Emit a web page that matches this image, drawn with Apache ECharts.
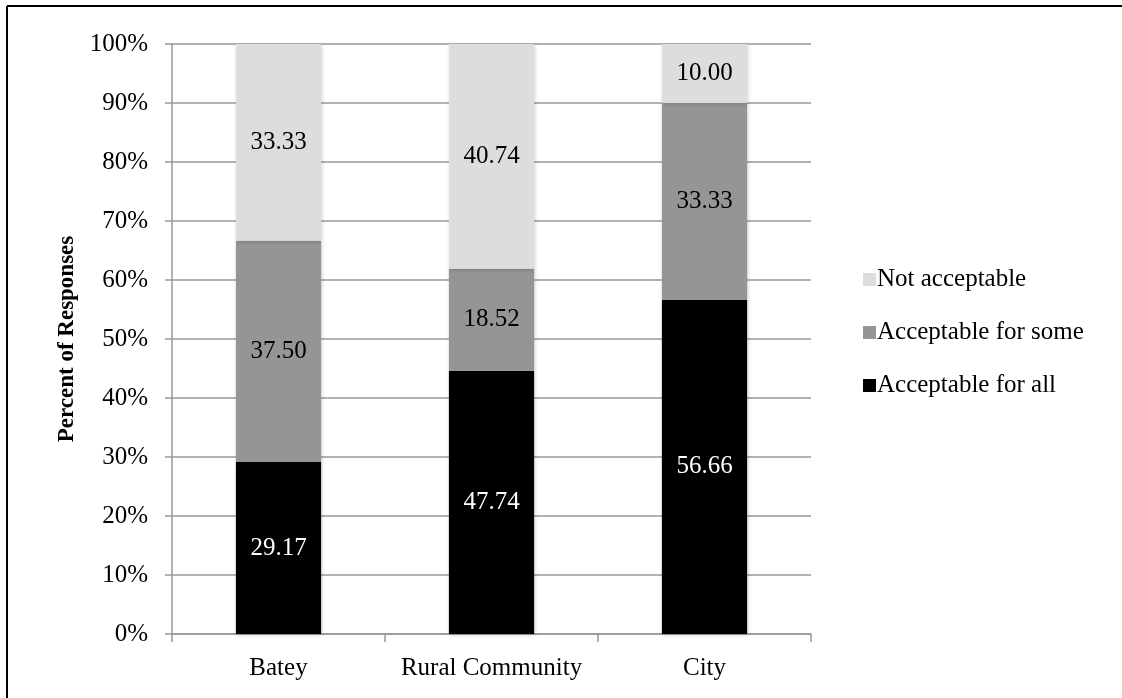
<!DOCTYPE html>
<html>
<head>
<meta charset="utf-8">
<script src="https://cdn.jsdelivr.net/npm/echarts@6/dist/echarts.min.js"></script>
<style>
  html, body { margin: 0; padding: 0; background: #fff; }
  #chart { width: 1122px; height: 698px; }
</style>
</head>
<body>
<div id="chart"></div>
<script>
const categories = ['Batey', 'Rural Community', 'City'];
const acceptableAll = [29.17, 47.74, 56.66];
const acceptableSome = [37.50, 18.52, 33.33];
const notAcceptable = [33.33, 40.74, 10.00];
const yTicks = [0, 10, 20, 30, 40, 50, 60, 70, 80, 90, 100];

// Excel-style 100% stacking: heights are each value's share of its column
const totals = categories.map((c, i) => acceptableAll[i] + acceptableSome[i] + notAcceptable[i]);
const share = (arr) => arr.map((v, i) => (v / totals[i]) * 100);

const font = 'Liberation Serif';
const chart = echarts.init(document.getElementById('chart'));

const barSeries = (name, raw, color, labelColor) => ({
  name: name,
  type: 'bar',
  stack: 'total',
  barWidth: '40%',
  data: share(raw),
  itemStyle: {
    color: color,
    shadowColor: 'rgba(0,0,0,0.18)',
    shadowBlur: 4,
    shadowOffsetX: 1,
    shadowOffsetY: 1,
  },
  label: {
    show: true,
    position: 'inside',
    color: labelColor,
    fontFamily: font,
    fontSize: 25,
    formatter: (p) => raw[p.dataIndex].toFixed(2),
  },
});

const option = {
  backgroundColor: '#fff',
  animation: false,
  grid: {
    left: 172,
    top: 44,
    width: 639,
    height: 590,
  },
  legend: {
    orient: 'vertical',
    left: 858,
    top: 262,
    itemWidth: 13,
    itemHeight: 13,
    itemGap: 28,
    icon: 'rect',
    data: ['Not acceptable', 'Acceptable for some', 'Acceptable for all'],
    textStyle: { fontFamily: font, fontSize: 25, color: '#000', padding: [0, 0, 0, -4] },
  },
  xAxis: {
    type: 'category',
    data: categories,
    axisLine: { lineStyle: { color: '#999', width: 1.5 } },
    axisTick: { show: true, length: 8, lineStyle: { color: '#999', width: 1.5 } },
    axisLabel: {
      fontFamily: font,
      fontSize: 25,
      color: '#000',
      margin: 22,
      interval: 0,
      hideOverlap: false,
    },
  },
  yAxis: {
    type: 'value',
    min: 0,
    max: 100,
    interval: 10,
    name: 'Percent of Responses',
    nameLocation: 'middle',
    nameGap: 60,
    nameTextStyle: { fontFamily: font, fontSize: 23, fontWeight: 'bold', color: '#000' },
    axisLine: { show: true, lineStyle: { color: '#999', width: 1.5 } },
    axisTick: { show: true, length: 7, lineStyle: { color: '#999', width: 1.5 } },
    splitLine: { lineStyle: { color: '#999', width: 1.5 } },
    axisLabel: {
      fontFamily: font,
      fontSize: 25,
      color: '#000',
      margin: 24,
      formatter: (v) => (yTicks.includes(v) ? v + '%' : ''),
    },
  },
  graphic: [
    { type: 'line', shape: { x1: 7, y1: 6, x2: 1122, y2: 6 }, style: { stroke: '#000', lineWidth: 2 } },
    { type: 'line', shape: { x1: 7, y1: 6, x2: 7, y2: 698 }, style: { stroke: '#000', lineWidth: 2 } },
  ],
  series: [
    barSeries('Acceptable for all', acceptableAll, '#000000', '#ffffff'),
    barSeries('Acceptable for some', acceptableSome, '#959595', '#000000'),
    barSeries('Not acceptable', notAcceptable, '#dddddd', '#000000'),
  ],
};

option && chart.setOption(option);
</script>
</body>
</html>
